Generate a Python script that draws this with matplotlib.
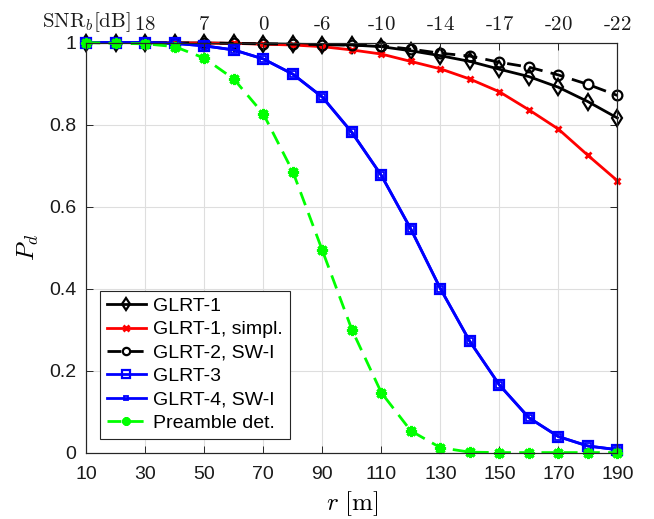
import numpy as np
import matplotlib
matplotlib.use('Agg')
import matplotlib.pyplot as plt

plt.rcParams['font.family'] = ['Liberation Sans', 'DejaVu Sans']
plt.rcParams['mathtext.fontset'] = 'cm'

r = [10, 20, 30, 40, 50, 60, 70, 80, 90, 100, 110, 120, 130, 140, 150, 160, 170, 180, 190]

glrt1 = [1.0, 1.0, 1.0, 0.999, 0.999, 0.998, 0.997, 0.996, 0.995, 0.994, 0.990, 0.980,
         0.968, 0.954, 0.935, 0.917, 0.891, 0.856, 0.816]
glrt1_simpl = [1.0, 1.0, 1.0, 0.999, 0.999, 0.998, 0.996, 0.994, 0.990, 0.982, 0.972, 0.954,
               0.936, 0.911, 0.880, 0.836, 0.789, 0.725, 0.663]
glrt2 = [1.0, 1.0, 1.0, 0.999, 0.999, 0.998, 0.997, 0.996, 0.995, 0.994, 0.992, 0.984,
         0.974, 0.967, 0.952, 0.940, 0.921, 0.898, 0.871]
glrt3 = [1.0, 1.0, 1.0, 0.998, 0.992, 0.982, 0.960, 0.923, 0.867, 0.781, 0.676, 0.545,
         0.400, 0.271, 0.165, 0.085, 0.039, 0.016, 0.007]
glrt4 = [1.0, 1.0, 1.0, 0.998, 0.992, 0.982, 0.960, 0.923, 0.867, 0.781, 0.676, 0.545,
         0.400, 0.271, 0.165, 0.085, 0.039, 0.016, 0.007]
preamble = [1.0, 0.998, 0.997, 0.990, 0.962, 0.911, 0.826, 0.685, 0.493, 0.300, 0.146, 0.053,
            0.012, 0.001, 0.0, 0.0, 0.0, 0.0, 0.0]

xticks = [10, 30, 50, 70, 90, 110, 130, 150, 170, 190]
snr_labels = [r'$\mathrm{SNR}_b[\mathrm{dB}]$', '$18$', '$7$', '$0$', r'$\text{-}6$', r'$\text{-}10$',
              r'$\text{-}14$', r'$\text{-}17$', r'$\text{-}20$', r'$\text{-}22$']

axcol = (0.15, 0.15, 0.15)

fig = plt.figure(figsize=(6.54, 5.19), dpi=100)
ax = fig.add_axes([0.132, 0.128, 0.812, 0.790])

lw = 2.0
common = dict(lw=lw, clip_on=False)
ax.plot(r, glrt1, '-', color='k', marker='d', ms=8, mfc='none', mew=1.6, label='GLRT-1', **common)
ax.plot(r, glrt1_simpl, '-', color='r', marker='x', ms=5, mew=2, label='GLRT-1, simpl.', **common)
ax.plot(r, glrt2, '--', color='k', marker='o', ms=7, mfc='none', mew=1.6,
        dashes=(5, 3), label='GLRT-2, SW-I', **common)
ax.plot(r, glrt3, '-', color='b', marker='s', ms=7, mfc='none', mew=1.6, label='GLRT-3', **common)
ax.plot(r, glrt4, '-', color='b', marker='s', ms=4.5, mfc='none', mew=1.3, label='GLRT-4, SW-I', **common)
ax.plot(r, preamble, '--', color='#00ff00', marker=(8, 2, 0), ms=8, mew=2.2,
        dashes=(5, 3), label='Preamble det.', **common)

ax.set_xlim(10, 190)
ax.set_ylim(0, 1)
ax.set_xticks(xticks)
ax.set_yticks([0, 0.2, 0.4, 0.6, 0.8, 1])
ax.set_yticklabels(['0', '0.2', '0.4', '0.6', '0.8', '1'])
ax.grid(True, color=(0.87, 0.87, 0.87), lw=0.8)
ax.set_axisbelow(True)
ax.tick_params(direction='in', length=5, width=0.7, colors=axcol, labelsize=14,
               right=True, labelcolor=(0.1, 0.1, 0.1))
ax.tick_params(axis='x', pad=10)
ax.tick_params(axis='y', pad=7)
for s in ax.spines.values():
    s.set_color(axcol)
    s.set_linewidth(0.8)

ax.set_xlabel(r'$r\ [\mathrm{m}]$', fontsize=18, labelpad=4)
ax.set_ylabel(r'$P_d$', fontsize=18, labelpad=6)

top = ax.twiny()
top.set_xlim(ax.get_xlim())
top.set_xticks(xticks)
top.set_xticklabels(snr_labels)
top.tick_params(direction='in', length=5, width=0.7, colors=axcol, labelsize=15,
                labelcolor=(0.1, 0.1, 0.1), pad=6)
for s in top.spines.values():
    s.set_color(axcol)
    s.set_linewidth(0.8)

leg = ax.legend(loc='lower left', fontsize=14, fancybox=False, framealpha=1,
                edgecolor=axcol, borderaxespad=0.7, handlelength=2.0, labelspacing=0.3,
                borderpad=0.35, handletextpad=0.4, markerscale=0.75)
leg.get_frame().set_linewidth(0.8)

fig.savefig('out.png', dpi=100)
